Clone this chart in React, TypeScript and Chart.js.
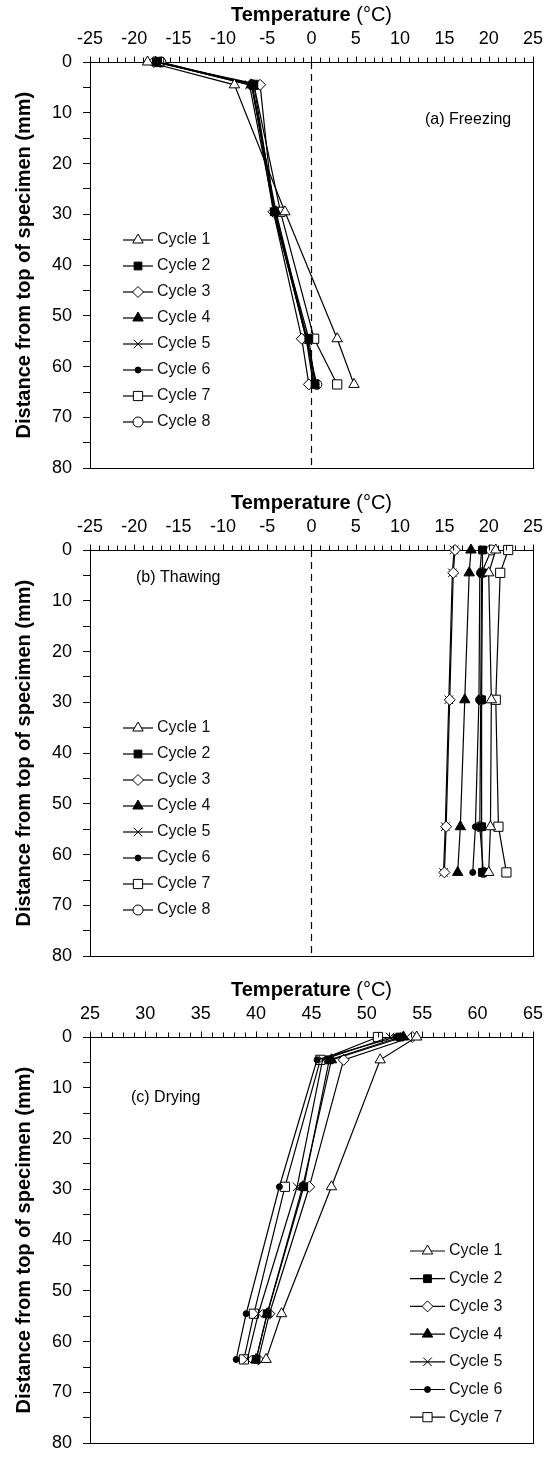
import React, { useEffect, useRef } from 'react';
import { Chart, registerables } from 'chart.js';
import { drawPoint } from 'chart.js/helpers';

Chart.register(...registerables);

const FONT = '"Liberation Sans", Arial, Helvetica, sans-serif';

// Depth of each thermocouple below the top of the specimen (mm)
const depthsMm = [0, 4.5, 29.5, 54.5, 63.5];

const cycleNames = ['Cycle 1', 'Cycle 2', 'Cycle 3', 'Cycle 4', 'Cycle 5', 'Cycle 6', 'Cycle 7', 'Cycle 8'];

// Temperatures (°C) per cycle, one value per depth
const freezingTemps = [
  [-18.5, -8.7, -3.0, 2.9, 4.8],
  [-17.5, -6.5, -4.2, -0.3, 0.4],
  [-17.8, -5.8, -4.3, -1.1, -0.3],
  [-17.6, -6.8, -4.0, -0.5, 0.3],
  [-17.4, -7.0, -4.2, -0.6, 0.2],
  [-17.3, -6.7, -4.3, -0.5, 0.5],
  [-17.2, -6.5, -3.5, 0.3, 2.9],
  [-17.0, -6.7, -4.1, -0.6, 0.6],
];

const thawingTemps = [
  [20.8, 20.0, 20.3, 20.2, 20.0],
  [19.3, 19.3, 19.2, 19.2, 19.3],
  [16.2, 16.0, 15.6, 15.2, 15.0],
  [18.0, 17.8, 17.3, 16.8, 16.5],
  [16.1, 15.9, 15.5, 15.1, 14.9],
  [19.2, 19.0, 18.9, 18.5, 18.2],
  [22.2, 21.3, 20.8, 21.1, 22.0],
  [20.3, 19.2, 19.1, 19.0, 19.4],
];

const dryingTemps = [
  [54.5, 51.2, 46.8, 42.3, 40.9],
  [53.0, 46.6, 44.3, 41.0, 40.0],
  [54.1, 47.9, 44.8, 41.2, 40.2],
  [53.3, 46.8, 44.2, 41.0, 40.0],
  [52.1, 46.0, 43.7, 40.2, 39.2],
  [52.6, 45.5, 42.1, 39.1, 38.2],
  [51.0, 45.8, 42.6, 39.8, 38.9],
];

// Marker look for each cycle
const markerStyles = [
  { style: 'triangle', radius: 6, fill: '#ffffff' },
  { style: 'rect', radius: 5.5, fill: '#000000' },
  { style: 'rectRot', radius: 5.5, fill: '#ffffff' },
  { style: 'triangle', radius: 6, fill: '#000000' },
  { style: 'crossRot', radius: 6, fill: '#000000' },
  { style: 'circle', radius: 3, fill: '#000000' },
  { style: 'rect', radius: 6.5, fill: '#ffffff' },
  { style: 'circle', radius: 5, fill: '#ffffff' },
];

type PanelProps = {
  top: number;
  temps: number[][];
  xMin: number;
  xMax: number;
  zeroLine: boolean;
  tag: string;
  tagX: number;
  tagY: number;
  legendLineX1: number;
  legendLineX2: number;
  legendTextX: number;
  legendY: number;
  legendGap: number;
};

const W = 555;
const H = 490;

function Panel(p: PanelProps) {
  const ref = useRef<HTMLCanvasElement>(null);

  useEffect(() => {
    const canvas = ref.current;
    if (!canvas) return;

    const datasets = p.temps.map((row, i) => ({
      label: cycleNames[i],
      data: row.map((t, k) => ({ x: t, y: depthsMm[k] })),
      showLine: true,
      clip: false,
      borderColor: '#000',
      borderWidth: 1.2,
      pointStyle: markerStyles[i].style as any,
      pointRadius: markerStyles[i].radius,
      pointBackgroundColor: markerStyles[i].fill,
      pointBorderColor: '#000',
      pointBorderWidth: 1,
    }));

    const decor = {
      id: 'decor',
      beforeDatasetsDraw(chart: any) {
        const { ctx, chartArea: a, scales } = chart;
        ctx.save();
        ctx.strokeStyle = '#000';
        ctx.lineWidth = 1;
        ctx.strokeRect(Math.round(a.left) + 0.5, Math.round(a.top) + 0.5,
          Math.round(a.right - a.left), Math.round(a.bottom - a.top));
        if (p.zeroLine) {
          const px = Math.round(scales.x.getPixelForValue(0)) + 0.5;
          ctx.setLineDash([7, 5]);
          ctx.lineWidth = 1.2;
          ctx.beginPath();
          ctx.moveTo(px, a.top);
          ctx.lineTo(px, a.bottom);
          ctx.stroke();
        }
        ctx.restore();
      },
      afterDraw(chart: any) {
        const { ctx, chartArea: a, scales } = chart;
        const xs = scales.x;
        ctx.save();
        ctx.strokeStyle = '#000';
        ctx.lineWidth = 1;

        // temperature ticks pointing up, out of the plot
        const yTop = Math.round(a.top) + 0.5;
        for (let v = p.xMin; v <= p.xMax; v++) {
          const px = Math.round(xs.getPixelForValue(v)) + 0.5;
          const len = v % 5 === 0 ? 6 : 5;
          ctx.beginPath();
          ctx.moveTo(px, yTop);
          ctx.lineTo(px, yTop - len);
          ctx.stroke();
        }

        // axis titles
        ctx.fillStyle = '#000';
        ctx.textBaseline = 'middle';
        ctx.font = `bold 20px ${FONT}`;
        const t1 = 'Temperature ';
        const w1 = ctx.measureText(t1).width;
        ctx.font = `20px ${FONT}`;
        const t2 = '(°C)';
        const w2 = ctx.measureText(t2).width;
        const cx = (a.left + a.right) / 2;
        const sx = cx - (w1 + w2) / 2;
        ctx.textAlign = 'left';
        ctx.font = `bold 20px ${FONT}`;
        ctx.fillText(t1, sx, 15);
        ctx.font = `20px ${FONT}`;
        ctx.fillText(t2, sx + w1, 15);

        ctx.save();
        ctx.translate(24, (a.top + a.bottom) / 2);
        ctx.rotate(-Math.PI / 2);
        ctx.textAlign = 'center';
        ctx.font = `bold 20px ${FONT}`;
        ctx.fillText('Distance from top of specimen (mm)', 0, 0);
        ctx.restore();

        // panel tag
        ctx.font = `16px ${FONT}`;
        ctx.textAlign = 'left';
        ctx.fillText(p.tag, p.tagX, p.tagY);

        // legend: line with marker, then label
        p.temps.forEach((_, i) => {
          const y = p.legendY + i * p.legendGap;
          ctx.strokeStyle = '#000';
          ctx.lineWidth = 1.2;
          ctx.beginPath();
          ctx.moveTo(p.legendLineX1, y);
          ctx.lineTo(p.legendLineX2, y);
          ctx.stroke();
          const m = markerStyles[i];
          ctx.fillStyle = m.fill;
          ctx.strokeStyle = '#000';
          ctx.lineWidth = 1;
          drawPoint(ctx, { pointStyle: m.style as any, radius: m.radius, borderWidth: 1, rotation: 0 } as any,
            (p.legendLineX1 + p.legendLineX2) / 2, y);
          ctx.fillStyle = '#111';
          ctx.font = `16px ${FONT}`;
          ctx.textAlign = 'left';
          ctx.textBaseline = 'middle';
          ctx.fillText(cycleNames[i], p.legendTextX, y);
        });
        ctx.restore();
      },
    };

    const chart = new Chart(canvas, {
      type: 'scatter',
      data: { datasets },
      options: {
        animation: false,
        responsive: false,
        layout: { padding: { left: 0, right: 15, top: 0, bottom: 11 } },
        plugins: { legend: { display: false }, tooltip: { enabled: false } },
        scales: {
          x: {
            type: 'linear',
            position: 'top',
            min: p.xMin,
            max: p.xMax,
            ticks: {
              stepSize: 5,
              autoSkip: false,
              maxRotation: 0,
              padding: 12,
              color: '#000',
              font: { family: FONT, size: 18 },
            },
            grid: { display: false, drawTicks: false },
            border: { display: false },
            afterFit: (s: any) => { s.height = 62; },
          },
          y: {
            type: 'linear',
            reverse: true,
            min: 0,
            max: 80,
            ticks: {
              stepSize: 5,
              autoSkip: false,
              padding: 11,
              color: '#000',
              font: { family: FONT, size: 18 },
              callback: (v: any) => (Number(v) % 10 === 0 ? String(v) : ''),
            },
            grid: { display: true, drawOnChartArea: false, drawTicks: true, tickLength: 7, color: '#000' },
            border: { display: false },
            afterFit: (s: any) => { s.width = 90; },
          },
        },
      } as any,
      plugins: [decor],
    });
    return () => chart.destroy();
  }, []);

  return (
    <canvas
      ref={ref}
      width={W}
      height={H}
      style={{ position: 'absolute', left: 0, top: p.top, width: W, height: H }}
    />
  );
}

export default function App() {
  return (
    <div style={{ position: 'absolute', left: 0, top: 0, width: 555, height: 1465, background: '#fff' }}>
      <Panel
        top={0}
        temps={freezingTemps}
        xMin={-25}
        xMax={25}
        zeroLine={true}
        tag="(a) Freezing"
        tagX={425}
        tagY={120}
        legendLineX1={123}
        legendLineX2={153}
        legendTextX={157}
        legendY={240}
        legendGap={26}
      />
      <Panel
        top={488}
        temps={thawingTemps}
        xMin={-25}
        xMax={25}
        zeroLine={true}
        tag="(b) Thawing"
        tagX={136}
        tagY={90}
        legendLineX1={123}
        legendLineX2={153}
        legendTextX={157}
        legendY={240}
        legendGap={26}
      />
      <Panel
        top={975}
        temps={dryingTemps}
        xMin={25}
        xMax={65}
        zeroLine={false}
        tag="(c) Drying"
        tagX={131}
        tagY={123}
        legendLineX1={410}
        legendLineX2={445}
        legendTextX={449}
        legendY={276}
        legendGap={27.7}
      />
    </div>
  );
}
